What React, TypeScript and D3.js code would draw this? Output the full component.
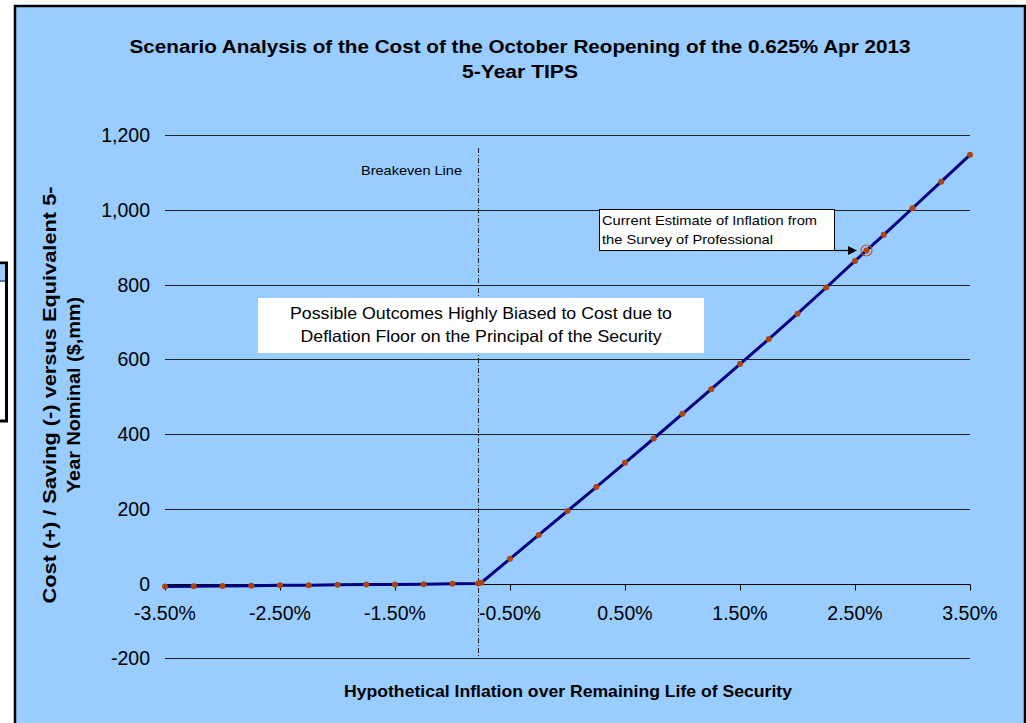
import React from "react";
import * as d3 from "d3";

const inflation = [-3.5, -3.25, -3.0, -2.75, -2.5, -2.25, -2.0, -1.75, -1.5, -1.25, -1.0, -0.778, -0.75, -0.5, -0.25, 0.0, 0.25, 0.5, 0.75, 1.0, 1.25, 1.5, 1.75, 2.0, 2.25, 2.5, 2.75, 3.0, 3.25, 3.5];
const cost = [-8, -7.5, -7, -6, -5, -4.5, -3.5, -3, -2.5, -2, -1, 0, 2, 66, 130, 194, 258, 323, 388, 454, 520, 587, 654, 722, 792, 863, 933, 1004, 1075, 1147];

const yTicks = [-200, 0, 200, 400, 600, 800, 1000, 1200];
const xTicks = [-3.5, -2.5, -1.5, -0.5, 0.5, 1.5, 2.5, 3.5];
const breakevenX = -0.778;
const currentEstimate = { x: 2.6, y: 891 };

const titleLines = ["Scenario Analysis of the Cost of the October Reopening of the 0.625% Apr 2013", "5-Year TIPS"];
const yTitleLines = ["Cost (+) / Saving (-) versus Equivalent 5-", "Year Nominal ($,mm)"];
const xTitle = "Hypothetical Inflation over Remaining Life of Security";
const boxLines = ["Possible Outcomes Highly Biased to Cost due to", "Deflation Floor on the Principal of the Security"];
const calloutLines = ["Current Estimate of Inflation from", "the Survey of Professional"];
const breakevenLabel = "Breakeven Line";

const FONT = "'Liberation Sans', Arial, Helvetica, sans-serif";

export default function App() {
  const x = d3.scaleLinear().domain([-3.5, 3.5]).range([165, 970]);
  const y = d3.scaleLinear().domain([-200, 1200]).range([658.25, 135]);
  const py = (v: number) => Math.round(y(v)) + 0.5;
  const pts = inflation.map((v, i) => [x(v), y(cost[i])] as [number, number]);
  const line = d3.line()(pts) || "";
  const fmtY = (v: number) => d3.format(",")(Math.abs(v)).replace(/^/, v < 0 ? "-" : "");
  const fmtX = (v: number) => v.toFixed(2) + "%";
  const bx = Math.round(x(breakevenX)) + 0.5;
  const cx = x(currentEstimate.x);
  const cy = y(currentEstimate.y);

  return (
    <svg width={1026} height={723} style={{ position: "absolute", left: 0, top: 0, background: "#fff" }} fontFamily={FONT}>
      {/* stray box at left */}
      <rect x={-10} y={263} width={16.5} height={158} fill="#fff" stroke="#000" strokeWidth={3} />
      <rect x={-10} y={264.5} width={15} height={17} fill="#99ccff" />
      <line x1={-10} x2={5} y1={281} y2={281} stroke="#3d5f8a" strokeWidth={1.5} />

      {/* chart area */}
      <rect x={15} y={6} width={1010} height={730} fill="#99ccff" stroke="#000" strokeWidth={2.5} />

      {/* title */}
      {titleLines.map((t, i) => (
        <text key={i} x={520} y={53 + i * 25} textAnchor="middle" fontWeight="bold" fontSize={17.5}
          textLength={i === 0 ? 781 : 116} lengthAdjust="spacingAndGlyphs">{t}</text>
      ))}

      {/* gridlines */}
      {yTicks.filter(t => t !== 0).map(t => (
        <line key={t} x1={165} x2={970} y1={py(t)} y2={py(t)} stroke="#222" strokeWidth={1} />
      ))}

      {/* y tick labels */}
      {yTicks.map(t => (
        <text key={t} x={150} y={y(t)} dy="0.36em" textAnchor="end" fontSize={19.5}>{fmtY(t)}</text>
      ))}

      {/* zero axis */}
      <line x1={165} x2={970} y1={py(0)} y2={py(0)} stroke="#000" strokeWidth={1.2} />
      {xTicks.map(t => (
        <line key={t} x1={Math.round(x(t)) + 0.5} x2={Math.round(x(t)) + 0.5} y1={py(0)} y2={py(0) + 6} stroke="#000" strokeWidth={1} />
      ))}
      {xTicks.map(t => (
        <text key={t} x={x(t)} y={620} textAnchor="middle" fontSize={19.5}>{fmtX(t)}</text>
      ))}

      {/* breakeven line */}
      <line x1={bx} x2={bx} y1={148} y2={y(-200)} stroke="#222" strokeWidth={1} strokeDasharray="5,2,1,2" />
      <text x={462} y={174.5} textAnchor="end" fontSize={13.5} textLength={101} lengthAdjust="spacingAndGlyphs">{breakevenLabel}</text>

      {/* series */}
      <path d={line} fill="none" stroke="#000080" strokeWidth={3} strokeLinejoin="round" />
      {pts.map((p, i) => (
        <circle key={i} cx={p[0]} cy={p[1]} r={3} fill="#b0440f" />
      ))}

      {/* biased text box */}
      <rect x={258} y={298} width={446} height={55} fill="#fff" />
      {boxLines.map((t, i) => (
        <text key={i} x={481} y={319 + i * 23} textAnchor="middle" fontSize={16.5}
          textLength={i === 0 ? 382 : 361} lengthAdjust="spacingAndGlyphs">{t}</text>
      ))}

      {/* callout */}
      <rect x={599.5} y={209.5} width={235} height={41} fill="#fff" stroke="#000" strokeWidth={1} />
      {calloutLines.map((t, i) => (
        <text key={i} x={602} y={224.5 + i * 19} fontSize={13.5}
          textLength={i === 0 ? 215 : 171} lengthAdjust="spacingAndGlyphs">{t}</text>
      ))}
      <line x1={834.5} x2={850} y1={250.5} y2={250.5} stroke="#000" strokeWidth={1.2} />
      <polygon points={`857,250.5 848,246 848,255`} fill="#000" />
      <circle cx={cx} cy={cy} r={5.5} fill="none" stroke="#c0501c" strokeWidth={1.2} />
      <circle cx={cx} cy={cy} r={3} fill="#b0440f" />

      {/* axis titles */}
      {yTitleLines.map((t, i) => (
        <text key={i} transform={`translate(${56 + i * 24},${395}) rotate(-90)`} textAnchor="middle" fontWeight="bold" fontSize={18}
          textLength={i === 0 ? 417 : 196} lengthAdjust="spacingAndGlyphs">{t}</text>
      ))}
      <text x={568} y={697} textAnchor="middle" fontWeight="bold" fontSize={17} textLength={448} lengthAdjust="spacingAndGlyphs">{xTitle}</text>
    </svg>
  );
}
